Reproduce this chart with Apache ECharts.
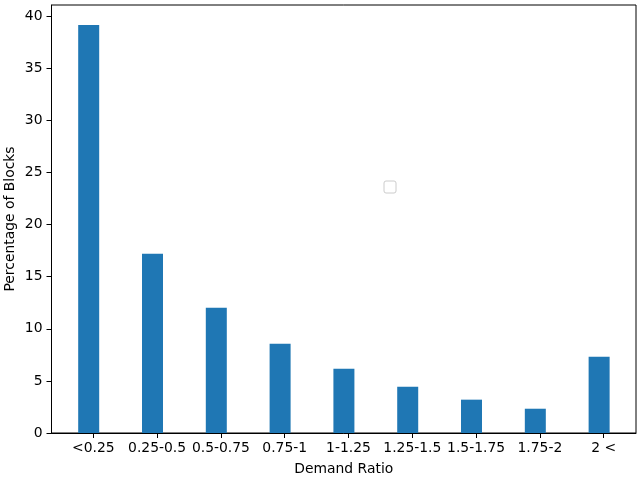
<!DOCTYPE html>
<html>
<head>
  <meta charset="UTF-8">
  <title>Demand Ratio</title>
</head>
<body style="margin:0">
  <div id="main" style="width: 640px; height: 480px;"></div>
  <script src="https://cdn.jsdelivr.net/npm/echarts@6/dist/echarts.min.js"></script>
  <script>
    const categories = ['<0.25', '0.25-0.5', '0.5-0.75', '0.75-1', '1-1.25', '1.25-1.5', '1.5-1.75', '1.75-2', '2 <'];
    const percentages = [39.17, 17.2, 12.02, 8.57, 6.17, 4.44, 3.2, 2.33, 7.32];
    const yTicks = [0, 5, 10, 15, 20, 25, 30, 35, 40];

    // bars sit a little left of their tick, as in the original plot
    const barOffset = -0.072;
    const font = 'DejaVu Sans';
    const fontSize = 13.9;

    const chart = echarts.init(document.getElementById('main'));
    chart.setOption({
      animation: false,
      grid: {
        left: 51.5, right: 4, top: 5, bottom: 47,
        outerBoundsMode: 'none',
        containLabel: false,
        show: true, borderColor: '#000', borderWidth: 1
      },
      xAxis: {
        type: 'value',
        min: -0.655,
        max: 8.506,
        name: 'Demand Ratio',
        nameLocation: 'middle',
        nameGap: 29,
        nameMoveOverlap: false,
        nameTextStyle: { fontFamily: font, fontSize: fontSize, color: '#000' },
        splitLine: { show: false },
        axisLine: { onZero: false, lineStyle: { color: '#000' } },
        axisTick: { customValues: categories.map((c, i) => i), length: 5, lineStyle: { color: '#000' } },
        axisLabel: {
          customValues: categories.map((c, i) => i),
          formatter: v => categories[Math.round(v)],
          fontFamily: font, fontSize: fontSize, color: '#000', margin: 8
        }
      },
      yAxis: {
        type: 'value',
        min: 0,
        max: 41.08,
        name: 'Percentage of Blocks',
        nameLocation: 'middle',
        nameGap: 34,
        nameMoveOverlap: false,
        nameTextStyle: { fontFamily: font, fontSize: fontSize, color: '#000' },
        splitLine: { show: false },
        axisLine: { show: true, onZero: false, lineStyle: { color: '#000' } },
        axisTick: { show: true, customValues: yTicks, length: 5, lineStyle: { color: '#000' } },
        axisLabel: { customValues: yTicks, fontFamily: font, fontSize: fontSize, color: '#000', margin: 9 }
      },
      series: [{
        type: 'bar',
        barWidth: 21,
        itemStyle: { color: '#1f77b4' },
        data: percentages.map((v, i) => [i + barOffset, v])
      }],
      graphic: [{
        type: 'rect',
        shape: { x: 384, y: 181, width: 12, height: 12, r: 2 },
        style: { fill: '#fff', stroke: '#cccccc', lineWidth: 1 }
      }]
    });
  </script>
</body>
</html>
